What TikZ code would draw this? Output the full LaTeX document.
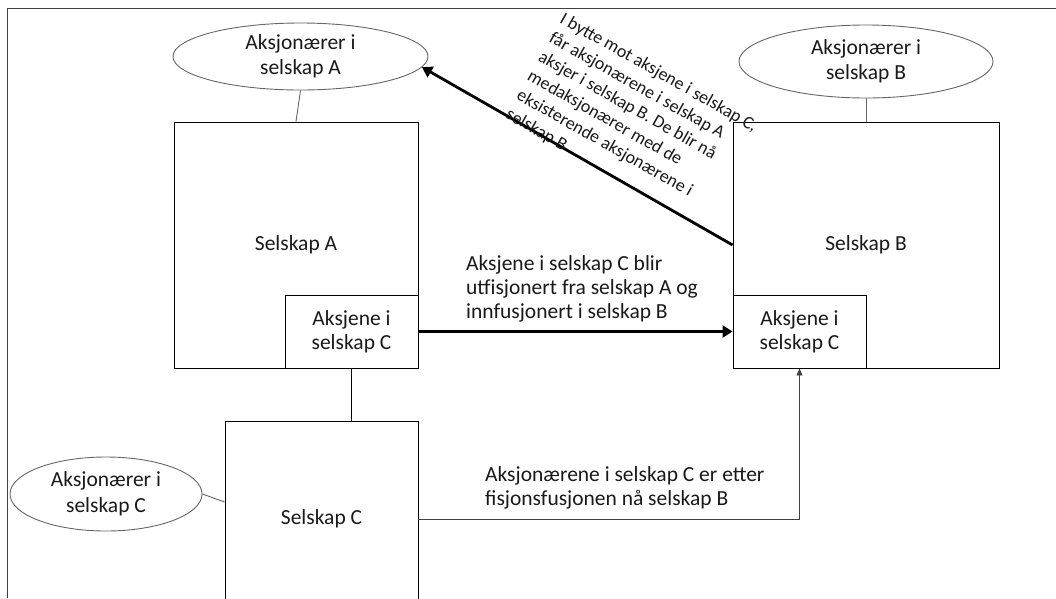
\documentclass[tikz,border=0pt]{standalone}
\usepackage{fontspec}
\setmainfont{Carlito}
\usetikzlibrary{shapes.geometric,arrows.meta}
\begin{document}
\begin{tikzpicture}[x=1pt,y=-1pt,
  every node/.style={font=\fontsize{21.5}{24}\selectfont, text=black!90},
  owner/.style={ellipse, draw=black!60, line width=0.9pt, inner sep=0pt, align=center, font=\fontsize{21.5}{25.5}\selectfont},
  firm/.style={rectangle, draw=black, line width=0.9pt, inner sep=0pt, align=center},
  link/.style={draw=black!60, line width=0.9pt},
  bigarrow/.style={draw=black, line width=2.8pt, -{Triangle[length=10pt,width=12pt]}},
  thinarrow/.style={draw=black!75, line width=0.9pt, -{Triangle[length=7pt,width=6pt]}},
  lbl/.style={align=left, inner sep=0pt}
]
\useasboundingbox (0,0) rectangle (1056,598);
% frame
\coordinate (fTL) at (7,8);
\coordinate (fTR) at (1056,8);
\coordinate (fBL) at (7,598);
\draw[black!75, line width=1pt] (fBL) -- (fTL) -- (fTR);

% ellipses
\node[owner, minimum width=255pt, minimum height=67pt] (eA) at (300.5,56.5) {Aksjonærer i\\selskap A};
\node[owner, minimum width=254pt, minimum height=73pt] (eB) at (866,61.5) {Aksjonærer i\\selskap B};
\node[owner, minimum width=192pt, minimum height=74pt] (eC) at (106,494) {Aksjonærer i\\selskap C};

% boxes
\node[firm, minimum width=244pt, minimum height=246pt] (A) at (296,245) {Selskap A};
\node[firm, minimum width=266pt, minimum height=246pt] (B) at (866,245) {Selskap B};
\node[firm, minimum width=133pt, minimum height=73pt] (iA) at (351.5,331.5) {Aksjene i\\selskap C};
\node[firm, minimum width=133pt, minimum height=73pt] (iB) at (799.5,331.5) {Aksjene i\\selskap C};
\node[firm, minimum width=193pt, minimum height=196pt] (C) at (321.5,519) {Selskap C};

% links
\draw[link] (eA.south) -- (A.north);
\draw[link] (eB.south) -- (B.north);
\draw[link] (eC.east) -- (C.west |- 0,502);
\draw[draw=black, line width=0.9pt] (iA.south) -- (iA.south |- C.north);

% arrows
\draw[bigarrow] (iA.east) -- (iB.west);
\draw[bigarrow] (B.west) -- (eA.-5);
\draw[thinarrow] (C.east) -| (iB.south);

% labels
\node[lbl, anchor=west] (l1) at (466,289) {Aksjene i selskap C blir\\utfisjonert fra selskap A og\\innfusjonert i selskap B};
\node[lbl, anchor=west] (l2) at (485,488) {Aksjonærene i selskap C er etter\\fisjonsfusjonen nå selskap B};
\node[lbl, anchor=north west, rotate=-29.5, font=\fontsize{18}{22}\selectfont] (l3) at (565,11) {I bytte mot aksjene i selskap C,\\får aksjonærene i selskap A\\aksjer i selskap B. De blir nå\\medaksjonærer med de\\eksisterende aksjonærene i\\selskap B};
\end{tikzpicture}
\end{document}
